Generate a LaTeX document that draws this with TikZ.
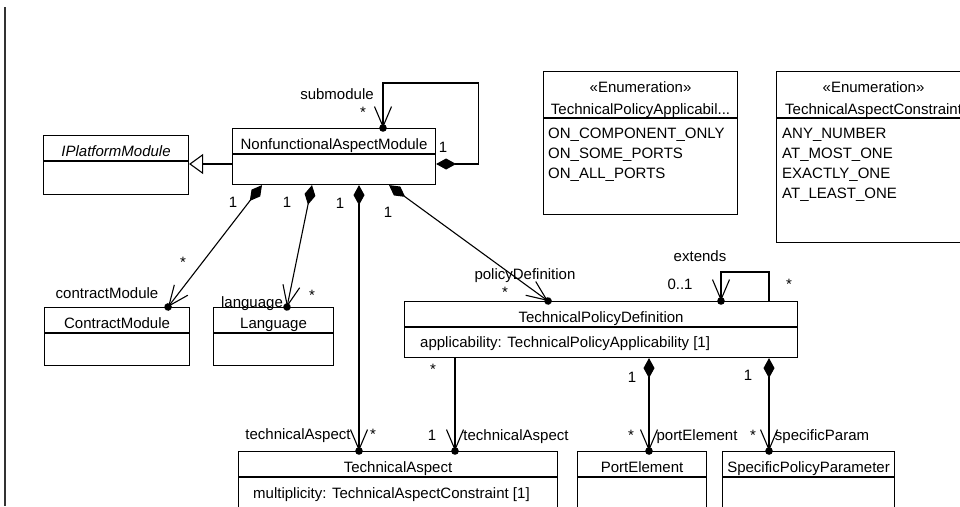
\documentclass[tikz,border=0pt]{standalone}
\usepackage{fontspec}
\setmainfont{Liberation Sans}
\usepackage{tikz}
\usetikzlibrary{arrows.meta,positioning,decorations.markings}
\tikzstyle{umlbox} = [rectangle, draw, anchor=north west, inner sep=0pt, line width=1.1pt]
\tikzstyle{umltitle} = [anchor=base, inner sep=0pt]
\tikzstyle{umlattr} = [anchor=base west, inner sep=0pt]
\tikzstyle{mult} = [anchor=base, inner sep=0pt]
\tikzstyle{sep} = [line width=1.1pt]
\tikzstyle{assoc} = [line width=1.1pt, -{Straight Barb[length=20pt,width=17pt]}, postaction={decorate}, decoration={markings, mark=at position 1 with {\fill (0,0) circle (3.8pt);}}]
\tikzstyle{comp} = [assoc, {Diamond[length=20pt,width=11pt]}-{Straight Barb[length=20pt,width=17pt]}]
\tikzstyle{inherit} = [line width=1.1pt, -{Triangle[open,length=14pt,width=20pt]}]

\begin{document}
\begin{tikzpicture}[x=1pt, y=-1pt, every node/.style={font=\fontsize{15}{18}\selectfont}]
\useasboundingbox (0,0) rectangle (960,506);
\clip (0,0) rectangle (960,506);
\draw[line width=1.5pt, black!80] (5,7) -- (5,506);

% classes
\node (ipm) [umlbox, minimum width=145pt, minimum height=59pt] at (43,135) {};
\node (nam) [umlbox, minimum width=203pt, minimum height=56pt] at (232,128) {};
\node (cm) [umlbox, minimum width=145pt, minimum height=58pt] at (44,307) {};
\node (lang) [umlbox, minimum width=120pt, minimum height=58pt] at (213,307) {};
\node (tpd) [umlbox, minimum width=393pt, minimum height=56pt] at (404,301) {};
\node (ta) [umlbox, minimum width=319pt, minimum height=70pt] at (238,451) {};
\node (pe) [umlbox, minimum width=129pt, minimum height=70pt] at (577,451) {};
\node (spp) [umlbox, minimum width=172pt, minimum height=70pt] at (722,451) {};
\draw[sep] ([yshift=-26pt]ipm.north west) -- ([yshift=-26pt]ipm.north east);
\draw[sep] ([yshift=-26pt]nam.north west) -- ([yshift=-26pt]nam.north east);
\draw[sep] ([yshift=-26pt]cm.north west) -- ([yshift=-26pt]cm.north east);
\draw[sep] ([yshift=-26pt]lang.north west) -- ([yshift=-26pt]lang.north east);
\draw[sep] ([yshift=-26pt]tpd.north west) -- ([yshift=-26pt]tpd.north east);
\draw[sep] ([yshift=-26pt]ta.north west) -- ([yshift=-26pt]ta.north east);
\draw[sep] ([yshift=-26pt]pe.north west) -- ([yshift=-26pt]pe.north east);
\draw[sep] ([yshift=-26pt]spp.north west) -- ([yshift=-26pt]spp.north east);
\node (ipmname) [umltitle, font=\fontsize{15}{18}\selectfont\itshape] at ([yshift=-21pt]ipm.north) {IPlatformModule};
\node (namname) [umltitle] at ([yshift=-21pt]nam.north) {NonfunctionalAspectModule};
\node (cmname) [umltitle] at ([yshift=-21pt]cm.north) {ContractModule};
\node (langname) [umltitle] at ([yshift=-21pt]lang.north) {Language};
\node (tpdname) [umltitle] at ([yshift=-21pt]tpd.north) {TechnicalPolicyDefinition};
\node (taname) [umltitle] at ([yshift=-21pt]ta.north) {TechnicalAspect};
\node (pename) [umltitle] at ([yshift=-21pt]pe.north) {PortElement};
\node (sppname) [umltitle] at ([yshift=-21pt]spp.north) {SpecificPolicyParameter};
\node (tpdattr) [umlattr] at ([xshift=16pt, yshift=-46pt]tpd.north west) {applicability: TechnicalPolicyApplicability [1]};
\node (taattr) [umlattr] at ([xshift=15pt, yshift=-47pt]ta.north west) {multiplicity: TechnicalAspectConstraint [1]};

% enumerations
\node (tpa) [umlbox, minimum width=194pt, minimum height=143pt] at (543,71) {};
\node (tac) [umlbox, minimum width=194pt, minimum height=171pt] at (776,71) {};
\draw[sep] ([yshift=-47pt]tpa.north west) -- ([yshift=-47pt]tpa.north east);
\draw[sep] ([yshift=-47pt]tac.north west) -- ([yshift=-47pt]tac.north east);
\node (tpast) [umltitle] at ([yshift=-21pt]tpa.north) {«Enumeration»};
\node (tpaname) [umltitle] at ([yshift=-43pt]tpa.north) {TechnicalPolicyApplicabil...};
\node (tpa1) [umlattr] at ([xshift=5pt, yshift=-67pt]tpa.north west) {ON\_COMPONENT\_ONLY};
\node (tpa2) [umlattr] at ([xshift=5pt, yshift=-87pt]tpa.north west) {ON\_SOME\_PORTS};
\node (tpa3) [umlattr] at ([xshift=5pt, yshift=-107pt]tpa.north west) {ON\_ALL\_PORTS};
\node (tacst) [umltitle] at ([yshift=-21pt]tac.north) {«Enumeration»};
\node (tacname) [umltitle] at ([yshift=-43pt]tac.north) {TechnicalAspectConstraint};
\node (tac1) [umlattr] at ([xshift=6pt, yshift=-67pt]tac.north west) {ANY\_NUMBER};
\node (tac2) [umlattr] at ([xshift=6pt, yshift=-87pt]tac.north west) {AT\_MOST\_ONE};
\node (tac3) [umlattr] at ([xshift=6pt, yshift=-107pt]tac.north west) {EXACTLY\_ONE};
\node (tac4) [umlattr] at ([xshift=6pt, yshift=-127pt]tac.north west) {AT\_LEAST\_ONE};

% connectors
\draw[inherit] ([yshift=-36pt]nam.north west) -- ([yshift=-29pt]ipm.north east);
\draw[comp] ([yshift=-36pt]nam.north east) -- ++(42,0) |- ([xshift=151pt, yshift=45pt]nam.north west) -- ([xshift=151pt]nam.north west);
\draw[comp] ([xshift=30pt]nam.south west) -- ([xshift=124pt]cm.north west);
\draw[comp] ([xshift=80pt]nam.south west) -- ([xshift=74pt]lang.north west);
\draw[comp] ([xshift=127pt]nam.south west) -- ([xshift=121pt]ta.north west);
\draw[comp] ([xshift=157pt]nam.south west) -- ([xshift=144pt]tpd.north west);
\draw[assoc] ([xshift=365pt]tpd.north west) -- ++(0,-29) -| ([xshift=317pt]tpd.north west);
\draw[assoc] ([xshift=51pt]tpd.south west) -- ([xshift=217pt]ta.north west);
\draw[comp] ([xshift=245pt]tpd.south west) -- ([xshift=72pt]pe.north west);
\draw[comp] ([xshift=365pt]tpd.south west) -- ([xshift=47pt]spp.north west);

% role names and multiplicities
\node (subrole) [mult] at (337,99) {submodule};
\node (subm) [mult] at (363,117) {*};
\node (subo) [mult] at (443,152) {1};
\node (cmo) [mult] at (233,207) {1};
\node (cmm) [mult] at (183,267) {*};
\node (cmrole) [mult] at (107,298) {contractModule};
\node (lango) [mult] at (287,207) {1};
\node (langm) [mult] at (312,300) {*};
\node (langrole) [mult] at (252,307) {language};
\node (tao) [mult] at (340,208) {1};
\node (tpdo) [mult] at (388,217) {1};
\node (tpdrole) [mult] at (525,279) {policyDefinition};
\node (tpdm) [mult] at (505,297) {*};
\node (extrole) [mult] at (700,261) {extends};
\node (extm) [mult] at (680,289) {0..1};
\node (exto) [mult] at (789,289) {*};
\node (tam) [mult] at (373,439) {*};
\node (tarole) [mult] at (298,439) {technicalAspect};
\node (tpdtao) [mult] at (433,374) {*};
\node (tpdtam) [mult] at (432,440) {1};
\node (tpdtarole) [mult] at (516,440) {technicalAspect};
\node (peo) [mult] at (632,382) {1};
\node (pem) [mult] at (631,440) {*};
\node (perole) [mult] at (697,440) {portElement};
\node (sppo) [mult] at (748,380) {1};
\node (sppm) [mult] at (753,440) {*};
\node (spprole) [mult] at (822,440) {specificParam};
\end{tikzpicture}
\end{document}
